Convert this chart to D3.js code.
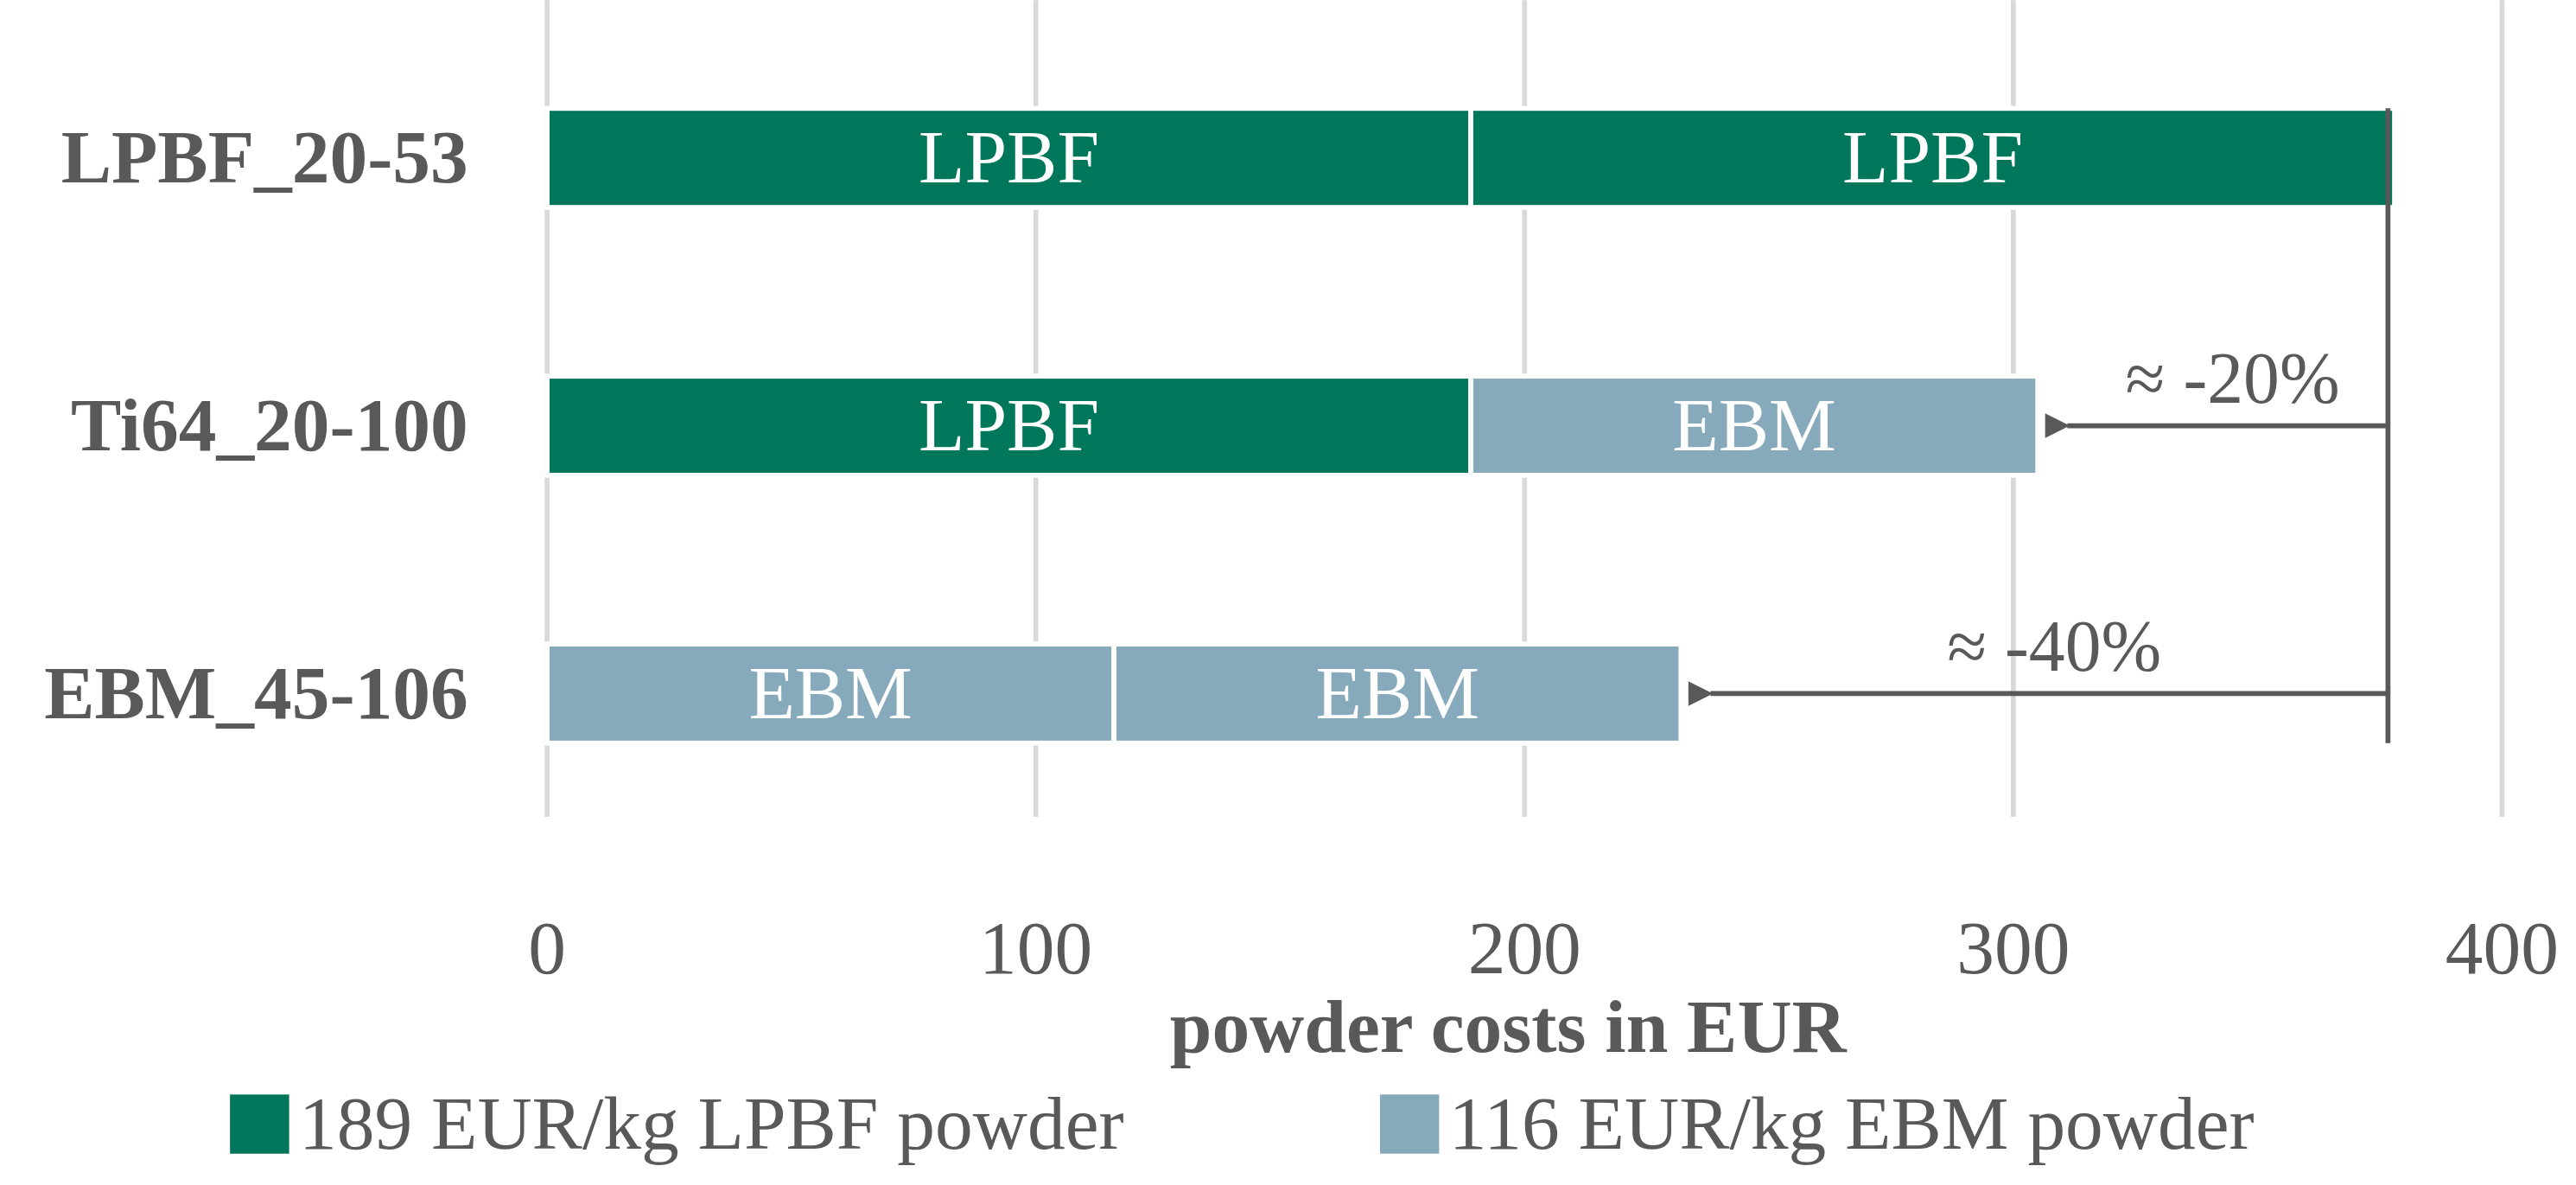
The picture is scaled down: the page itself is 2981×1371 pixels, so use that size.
<!DOCTYPE html>
<html><head><meta charset="utf-8">
<script src="https://cdn.jsdelivr.net/npm/d3@7"></script>
<style>body{margin:0;background:#fff}</style>
</head><body><div id="chart"></div>
<script>
var categories = ["LPBF_20-53", "Ti64_20-100", "EBM_45-106"]
var seg1 = [189, 189, 116]
var seg2 = [189, 116, 116]
var seg1Type = ["LPBF", "LPBF", "EBM"]
var seg2Type = ["LPBF", "EBM", "EBM"]
var xTicks = [0, 100, 200, 300, 400]
var savings = [null, "≈ -20%", "≈ -40%"]

var W = 1568, H = 721
var colors = { LPBF: "#00775a", EBM: "#86aabb" }
var font = "'Liberation Serif', serif"

var svg = d3.select("#chart").append("svg").attr("width", 2981).attr("height", 1371)
    .attr("viewBox", "0 0 " + W + " " + H)
var x = d3.scaleLinear().domain([0, 400]).range([333, 1523])
var y = d3.scaleBand().domain(categories).range([30, 488]).paddingInner(0.63).paddingOuter(0.22)

svg.selectAll(".grid").data(xTicks).enter().append("line")
    .attr("x1", d => x(d)).attr("x2", d => x(d))
    .attr("y1", 0).attr("y2", 497)
    .attr("stroke", "#d9d9d9").attr("stroke-width", 3)

svg.selectAll(".tick").data(xTicks).enter().append("text")
    .attr("x", d => x(d)).attr("y", 592)
    .attr("text-anchor", "middle").attr("font-family", font).attr("font-size", 46)
    .attr("fill", "#595959").text(d => d)

svg.append("text").attr("x", x(200) - 10).attr("y", 640).attr("text-anchor", "middle")
    .attr("font-family", font).attr("font-size", 46).attr("font-weight", "bold")
    .attr("fill", "#595959").text("powder costs in EUR")

svg.selectAll(".cat").data(categories).enter().append("text")
    .attr("x", 285).attr("y", d => y(d) + y.bandwidth() / 2 + 15)
    .attr("text-anchor", "end").attr("font-family", font).attr("font-size", 46)
    .attr("font-weight", "bold").attr("fill", "#595959").text(d => d)

categories.forEach(function (c, i) {
    var parts = [
        { x0: 0, x1: seg1[i], t: seg1Type[i] },
        { x0: seg1[i], x1: seg1[i] + seg2[i], t: seg2Type[i] }
    ]
    parts.forEach(function (p) {
        svg.append("rect").attr("x", x(p.x0)).attr("y", y(c))
            .attr("width", x(p.x1) - x(p.x0)).attr("height", y.bandwidth())
            .attr("fill", colors[p.t]).attr("stroke", "#fff").attr("stroke-width", 3)
        svg.append("text").attr("x", (x(p.x0) + x(p.x1)) / 2)
            .attr("y", y(c) + y.bandwidth() / 2 + 15).attr("text-anchor", "middle")
            .attr("font-family", font).attr("font-size", 46).attr("fill", "#fff").text(p.t)
    })
})

var ref = seg1[0] + seg2[0]
svg.append("defs").append("marker").attr("id", "ah").attr("viewBox", "0 0 10 10")
    .attr("refX", 1).attr("refY", 5).attr("markerWidth", 6).attr("markerHeight", 5)
    .attr("markerUnits", "strokeWidth").attr("orient", "auto-start-reverse")
    .append("path").attr("d", "M0,5 L10,0 L10,10 Z").attr("fill", "#595959")
svg.append("line").attr("x1", x(ref) - 4).attr("x2", x(ref) - 4)
    .attr("y1", y(categories[0])).attr("y2", y(categories[2]) + y.bandwidth())
    .attr("stroke", "#595959").attr("stroke-width", 3)
categories.forEach(function (c, i) {
    if (!savings[i]) return
    var end = seg1[i] + seg2[i]
    var yy = y(c) + y.bandwidth() / 2
    svg.append("line").attr("x1", x(ref) - 4).attr("x2", x(end) + 18)
        .attr("y1", yy).attr("y2", yy).attr("stroke", "#595959").attr("stroke-width", 3)
        .attr("marker-end", "url(#ah)")
    svg.append("text").attr("x", (x(ref) + x(end)) / 2 + 10).attr("y", yy - 14)
        .attr("text-anchor", "middle").attr("font-family", font).attr("font-size", 44)
        .attr("fill", "#595959").text(savings[i])
})

var legend = [["LPBF", "189 EUR/kg LPBF powder", 140], ["EBM", "116 EUR/kg EBM powder", 840]]
legend.forEach(function (l) {
    svg.append("rect").attr("x", l[2]).attr("y", 666).attr("width", 36).attr("height", 36)
        .attr("fill", colors[l[0]])
    svg.append("text").attr("x", l[2] + 42).attr("y", 699).attr("font-family", font)
        .attr("font-size", 46).attr("fill", "#595959").text(l[1])
})
</script></body></html>
